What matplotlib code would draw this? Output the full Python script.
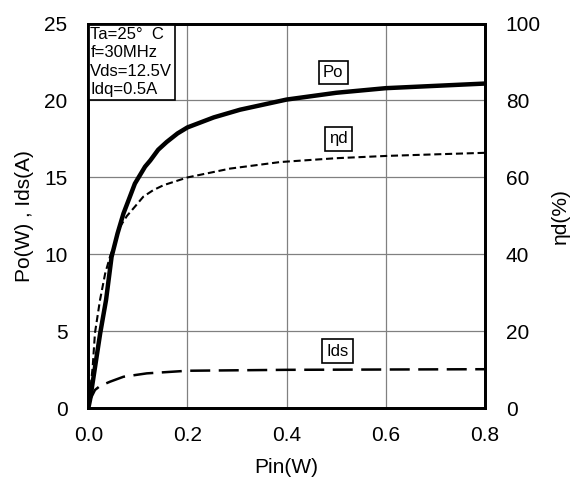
import numpy as np
import matplotlib
matplotlib.use("Agg")
import matplotlib.pyplot as plt

plt.rcParams["font.family"] = ["Liberation Sans", "DejaVu Sans"]

# Po (W) vs Pin (W)
pin_po = [0.0, 0.0035, 0.024, 0.0358, 0.047, 0.059, 0.071, 0.081, 0.094, 0.1145, 0.125,
          0.141, 0.158, 0.18, 0.2, 0.253, 0.306, 0.4, 0.5, 0.6, 0.7, 0.8]
po = [0.0, 0.54, 4.87, 7.03, 9.84, 11.36, 12.66, 13.5, 14.6, 15.7, 16.1,
      16.8, 17.3, 17.86, 18.25, 18.9, 19.4, 20.06, 20.5, 20.8, 20.95, 21.1]

# drain efficiency (%) vs Pin (W)
pin_eta = [0.0, 0.0035, 0.0089, 0.0135, 0.0236, 0.034, 0.044, 0.054, 0.064, 0.078, 0.094,
           0.111, 0.131, 0.152, 0.2, 0.286, 0.387, 0.5, 0.603, 0.7, 0.8]
eta = [0.0, 4.0, 10.8, 19.6, 28.1, 35.0, 39.5, 43.0, 47.2, 50.0, 52.4,
       55.0, 56.7, 58.0, 60.0, 62.3, 64.0, 65.0, 65.6, 66.0, 66.4]

# Ids (A) vs Pin (W)
pin_ids = [0.0, 0.0035, 0.0135, 0.0236, 0.044, 0.071, 0.118, 0.2, 0.3, 0.4, 0.6, 0.8]
ids = [0.3, 0.54, 1.19, 1.45, 1.73, 2.05, 2.27, 2.44, 2.47, 2.5, 2.52, 2.54]

cond_text = "Ta=25\u00b0  C\nf=30MHz\nVds=12.5V\nIdq=0.5A"

fig = plt.figure(figsize=(5.71, 4.82), dpi=100)
ax = fig.add_axes([0.1546, 0.1529, 0.6948, 0.7983])
ax2 = ax.twinx()

ax.plot(pin_po, po, color="black", lw=3.2, solid_capstyle="butt", zorder=5)
ax.plot(pin_ids, ids, color="black", lw=1.8, dashes=(8, 3.4), zorder=5)
ax2.plot(pin_eta, eta, color="black", lw=1.5, dashes=(3.4, 1.8), zorder=5)

ax.set_xlim(0, 0.8)
ax.set_ylim(0, 25)
ax2.set_ylim(0, 100)
ax.set_xticks(np.arange(0, 0.81, 0.2))
ax.set_xticklabels(["0.0", "0.2", "0.4", "0.6", "0.8"])
ax.set_yticks(range(0, 26, 5))
ax2.set_yticks(range(0, 101, 20))

ax.grid(True, color="#808080", lw=0.9)
for a in (ax, ax2):
    a.tick_params(axis="y", length=0, labelsize=15, pad=15)
    for s in a.spines.values():
        s.set_linewidth(2)
ax.tick_params(axis="x", length=0, labelsize=15, pad=13)

ax.set_xlabel("Pin(W)", fontsize=15, labelpad=9)
ax.set_ylabel("Po(W) , Ids(A)", fontsize=15, labelpad=7)
ax2.set_ylabel("\u03b7d(%)", fontsize=15, labelpad=7)

ax.text(0.004, 24.8, cond_text, fontsize=12, va="top", ha="left", linespacing=1.3,
        bbox=dict(boxstyle="square,pad=0.15", fc="white", ec="black", lw=1.2), zorder=10)

box = dict(boxstyle="square,pad=0.25", fc="white", ec="black", lw=1.2)
ax.text(0.494, 21.8, "Po", fontsize=12, ha="center", va="center", bbox=box, zorder=10)
ax.text(0.504, 17.5, "\u03b7d", fontsize=12, ha="center", va="center", bbox=box, zorder=10)
ax.text(0.502, 3.72, "Ids", fontsize=12, ha="center", va="center", bbox=box, zorder=10)

fig.savefig("out.png", dpi=100)
